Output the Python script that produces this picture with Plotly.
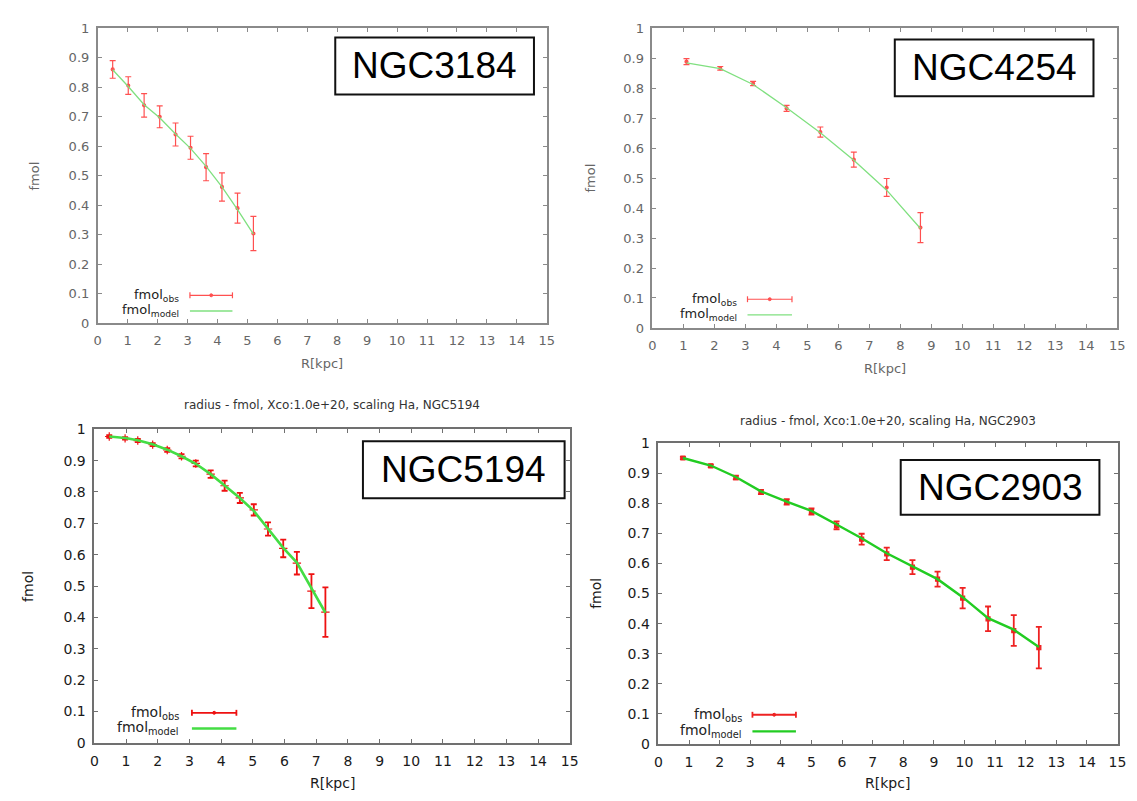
import plotly.graph_objects as go

W, H = 1137, 801

# ---------------- data ----------------
# NGC3184
r_3184 = [0.50, 1.02, 1.55, 2.07, 2.60, 3.10, 3.62, 4.15, 4.67, 5.20]
obs_3184 = [0.861, 0.806, 0.739, 0.700, 0.640, 0.595, 0.529, 0.462, 0.390, 0.304]
err_3184 = [0.030, 0.030, 0.040, 0.037, 0.039, 0.039, 0.046, 0.048, 0.051, 0.058]
mod_3184 = [0.860, 0.803, 0.741, 0.697, 0.642, 0.593, 0.532, 0.462, 0.385, 0.302]

# NGC4254
r_4254 = [1.10, 2.19, 3.25, 4.33, 5.42, 6.50, 7.56, 8.65]
obs_4254 = [0.889, 0.867, 0.816, 0.733, 0.654, 0.562, 0.469, 0.335]
err_4254 = [0.010, 0.006, 0.007, 0.010, 0.017, 0.025, 0.030, 0.050]
mod_4254 = [0.885, 0.866, 0.813, 0.735, 0.652, 0.560, 0.460, 0.332]

# NGC5194
r_5194 = [0.47, 0.97, 1.37, 1.84, 2.30, 2.75, 3.20, 3.67, 4.11, 4.59, 5.03, 5.48, 5.96, 6.39, 6.85, 7.29]
obs_5194 = [0.977, 0.971, 0.964, 0.951, 0.934, 0.914, 0.891, 0.857, 0.820, 0.781,
            0.743, 0.682, 0.620, 0.573, 0.484, 0.417]
err_5194 = [0.004, 0.004, 0.005, 0.005, 0.006, 0.007, 0.009, 0.012, 0.016, 0.016,
            0.018, 0.021, 0.028, 0.036, 0.054, 0.079]
mod_5194 = [0.977, 0.972, 0.965, 0.952, 0.935, 0.914, 0.890, 0.857, 0.821, 0.781,
            0.740, 0.684, 0.622, 0.575, 0.495, 0.415]

# NGC2903
r_2903 = [0.80, 1.71, 2.53, 3.35, 4.19, 5.00, 5.82, 6.64, 7.46, 8.30, 9.12, 9.94, 10.77, 11.61, 12.43]
obs_2903 = [0.951, 0.925, 0.886, 0.838, 0.805, 0.773, 0.727, 0.681, 0.632, 0.588,
            0.548, 0.485, 0.416, 0.377, 0.320]
err_2903 = [0.004, 0.004, 0.006, 0.007, 0.009, 0.010, 0.013, 0.018, 0.021, 0.023,
            0.025, 0.034, 0.041, 0.051, 0.069]
mod_2903 = [0.951, 0.926, 0.888, 0.840, 0.806, 0.775, 0.730, 0.684, 0.634, 0.590,
            0.548, 0.488, 0.418, 0.380, 0.322]

x_ticks = list(range(0, 16))
y_ticks = [round(0.1 * i, 1) for i in range(11)]
y_ticktext = ["0", "0.1", "0.2", "0.3", "0.4", "0.5", "0.6", "0.7", "0.8", "0.9", "1"]
x_label = "R[kpc]"
y_label = "fmol"
titles = ["", "", "radius - fmol, Xco:1.0e+20, scaling Ha, NGC5194",
          "radius - fmol, Xco:1.0e+20, scaling Ha, NGC2903"]
names = ["NGC3184", "NGC4254", "NGC5194", "NGC2903"]

# ---------------- layout geometry (pixels) ----------------
def px(x):
    return x / W

def py(y):
    return 1 - y / H

panels = [
    dict(l=86.7, r=541.0, t=12.7, b=313.3),
    dict(l=647.8, r=1118.0, t=12.7, b=318.3),
    dict(l=83.3, r=564.2, t=421.7, b=741.7),
    dict(l=653.9, r=1118.3, t=436.0, b=742.7),
]
data = [
    (r_3184, obs_3184, err_3184, mod_3184),
    (r_4254, obs_4254, err_4254, mod_4254),
    (r_5194, obs_5194, err_5194, mod_5194),
    (r_2903, obs_2903, err_2903, mod_2903),
]
style = [
    dict(red="#ff5050", ew=1.2, green="#80e080", gw=1.3, frame="#8a8a8a", tick="#666666",
         sym="circle", ms=3, fs=13),
    dict(red="#ff5050", ew=1.2, green="#80e080", gw=1.3, frame="#8a8a8a", tick="#666666",
         sym="circle", ms=3, fs=13),
    dict(red="#ee1111", ew=1.8, green="#44dd44", gw=2.6, frame="#707070", tick="#1a1a1a",
         sym="cross-thin", ms=6, fs=14),
    dict(red="#ee2222", ew=1.8, green="#22cc22", gw=2.4, frame="#707070", tick="#1a1a1a",
         sym="square", ms=4, fs=14),
]
box = [
    dict(x0=327, x1=528, y0=22, y1=80),
    dict(x0=893, x1=1094, y0=24, y1=82),
    dict(x0=355, x1=559, y0=434, y1=492),
    dict(x0=899, x1=1100, y0=453, y1=509),
]
xlab_y = [355, 360, 783, 783]
ylab_x = [23, 585, 16, 590]
title_y = [None, None, 397, 413]
legend = [
    dict(tx=171, s0=180, s1=223, y1=285, y2=301),
    dict(tx=735, s0=744, s1=789, y1=289, y2=305),
    dict(tx=171, s0=182, s1=227, y1=711, y2=727),
    dict(tx=740, s0=749, s1=793, y1=713, y2=730),
]

fig = go.Figure()
layout = dict(width=W, height=H, margin=dict(l=0, r=0, t=0, b=0),
              paper_bgcolor="white", plot_bgcolor="white", showlegend=False,
              font=dict(family="DejaVu Sans, Liberation Sans, Arial", size=13, color="#333"))
annotations = []
shapes = []

for i, (p, d, st) in enumerate(zip(panels, data, style)):
    k = "" if i == 0 else str(i + 1)
    xa, ya = "x" + k, "y" + k
    r, obs, err, mod = d
    fig.add_trace(go.Scatter(
        x=r, y=obs, mode="markers", xaxis=xa, yaxis=ya, name="fmol_obs",
        marker=dict(color=st["red"], size=st["ms"], symbol=st["sym"],
                    line=dict(color=st["red"], width=1.2)),
        error_y=dict(type="data", array=err, visible=True, color=st["red"],
                     thickness=st["ew"], width=3)))
    fig.add_trace(go.Scatter(
        x=r, y=mod, mode="lines", xaxis=xa, yaxis=ya, name="fmol_model",
        line=dict(color=st["green"], width=st["gw"])))

    axcommon = dict(showline=True, linecolor=st["frame"], linewidth=1.6, mirror="ticks",
                    ticks="inside", ticklen=4, tickwidth=1, tickcolor=st["frame"],
                    showgrid=False, zeroline=False, fixedrange=True,
                    tickfont=dict(family="DejaVu Sans", size=st["fs"], color=st["tick"]))
    layout["xaxis" + k] = dict(axcommon, domain=[px(p["l"]), px(p["r"])], anchor=ya,
                               range=[0, 15], tickmode="array", tickvals=x_ticks,
                               ticklabelstandoff=5)
    layout["yaxis" + k] = dict(axcommon, domain=[py(p["b"]), py(p["t"])], anchor=xa,
                               range=[0, 1], tickmode="array", tickvals=y_ticks,
                               ticktext=y_ticktext, ticklabelstandoff=4)

    annotations.append(dict(text=x_label, xref="paper", yref="paper",
                            x=px((p["l"] + p["r"]) / 2), y=py(xlab_y[i]),
                            showarrow=False, xanchor="center", yanchor="middle",
                            font=dict(family="DejaVu Sans", size=st["fs"], color=st["tick"])))
    annotations.append(dict(text=y_label, xref="paper", yref="paper",
                            x=px(ylab_x[i]), y=py((p["t"] + p["b"]) / 2), textangle=-90,
                            showarrow=False, xanchor="center", yanchor="middle",
                            font=dict(family="DejaVu Sans", size=st["fs"], color=st["tick"])))
    if titles[i]:
        annotations.append(dict(text=titles[i], xref="paper", yref="paper",
                                x=px((p["l"] + p["r"]) / 2), y=py(title_y[i]),
                                showarrow=False, xanchor="center", yanchor="middle",
                                font=dict(family="DejaVu Sans", size=12, color="#333")))
    b = box[i]
    shapes.append(dict(type="rect", xref="paper", yref="paper",
                       x0=px(b["x0"]), x1=px(b["x1"]), y0=py(b["y1"]), y1=py(b["y0"]),
                       line=dict(color="#111", width=2), fillcolor="white", layer="above"))
    annotations.append(dict(text=names[i], xref="paper", yref="paper",
                            x=px((b["x0"] + b["x1"]) / 2), y=py((b["y0"] + b["y1"]) / 2),
                            showarrow=False, xanchor="center", yanchor="middle",
                            font=dict(family="Liberation Sans, Arial", size=37, color="#000")))
    lg = legend[i]
    annotations.append(dict(text="fmol<sub>obs</sub>", xref="paper", yref="paper",
                            x=px(lg["tx"]), y=py(lg["y1"]), showarrow=False,
                            xanchor="right", yanchor="middle",
                            font=dict(family="DejaVu Sans", size=st["fs"], color="#222")))
    annotations.append(dict(text="fmol<sub>model</sub>", xref="paper", yref="paper",
                            x=px(lg["tx"]), y=py(lg["y2"]), showarrow=False,
                            xanchor="right", yanchor="middle",
                            font=dict(family="DejaVu Sans", size=st["fs"], color="#222")))
    shapes.append(dict(type="line", xref="paper", yref="paper",
                       x0=px(lg["s0"]), x1=px(lg["s1"]), y0=py(lg["y1"]), y1=py(lg["y1"]),
                       line=dict(color=st["red"], width=st["ew"])))
    for xx in (lg["s0"], lg["s1"]):
        shapes.append(dict(type="line", xref="paper", yref="paper",
                           x0=px(xx), x1=px(xx), y0=py(lg["y1"] - 3), y1=py(lg["y1"] + 3),
                           line=dict(color=st["red"], width=st["ew"])))
    mx = (lg["s0"] + lg["s1"]) / 2
    shapes.append(dict(type="circle", xref="paper", yref="paper",
                       x0=px(mx - 1.5), x1=px(mx + 1.5), y0=py(lg["y1"] + 1.5), y1=py(lg["y1"] - 1.5),
                       line=dict(color=st["red"], width=1), fillcolor=st["red"]))
    shapes.append(dict(type="line", xref="paper", yref="paper",
                       x0=px(lg["s0"]), x1=px(lg["s1"]), y0=py(lg["y2"]), y1=py(lg["y2"]),
                       line=dict(color=st["green"], width=st["gw"])))

layout["annotations"] = annotations
layout["shapes"] = shapes
fig.update_layout(**layout)
fig.write_html("out.html")
